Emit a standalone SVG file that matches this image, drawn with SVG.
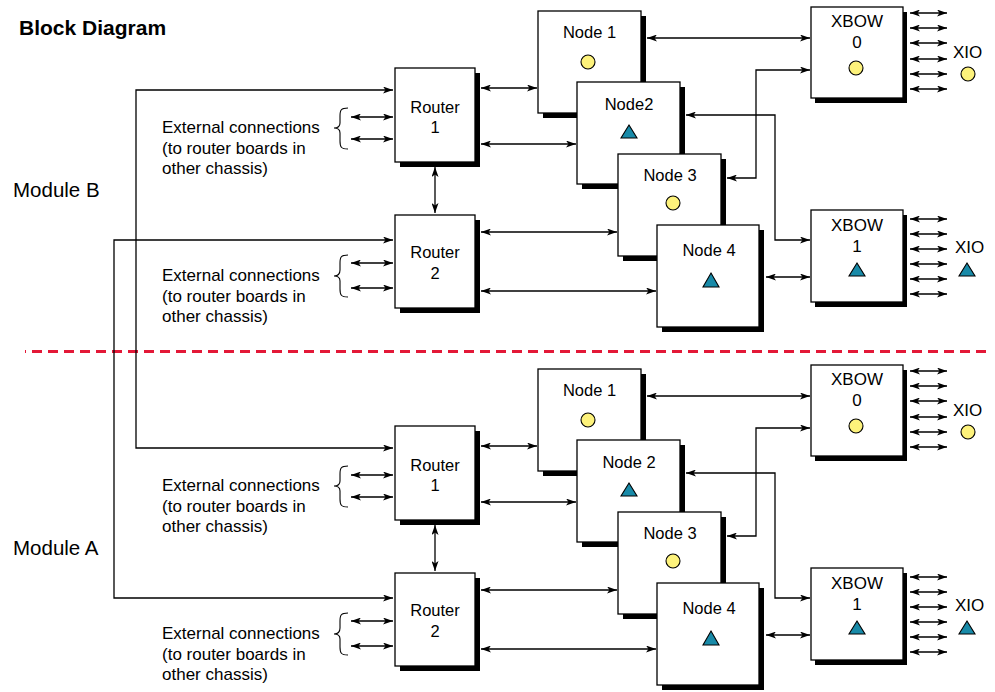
<svg xmlns="http://www.w3.org/2000/svg" width="995" height="692" viewBox="0 0 995 692">
<defs>
<style>
text{font-family:"Liberation Sans",Arial,Helvetica,sans-serif;fill:#000}
.lbl{font-size:16.5px;text-anchor:middle}
.xl{font-size:17px;text-anchor:middle}
.xio{font-size:17px}
.ext{font-size:17px}
.mod{font-size:20.5px}
.title{font-size:21px;font-weight:bold}
.box{fill:#fff;stroke:#000;stroke-width:1.3}
.sh{fill:#000}
.yc{fill:#fdf27b;stroke:#000;stroke-width:1.1}
.tri{fill:#188aa8;stroke:#000;stroke-width:1.1}
.ln{fill:none;stroke:#000;stroke-width:1.3}
.bi{marker-start:url(#ah);marker-end:url(#ah)}
.br{fill:none;stroke:#000;stroke-width:1.1}
</style>
<marker id="ah" viewBox="0 0 10 7" refX="10" refY="3.5" markerWidth="10" markerHeight="7" markerUnits="userSpaceOnUse" orient="auto-start-reverse">
<path d="M0,0 L10,3.5 L0,7 L2.5,3.5 z" fill="#000"/>
</marker>
</defs>
<rect width="995" height="692" fill="#fff"/>
<text class="title" x="19" y="35">Block Diagram</text>
<text class="mod" x="13" y="197">Module B</text>
<text class="mod" x="13" y="555">Module A</text>
<path d="M25,351.5 H992" stroke="#e31837" stroke-width="3" stroke-dasharray="10 6" stroke-dashoffset="9" fill="none"/>

<g id="inter-module-connectors">
<path class="ln bi" d="M393,90 H136 V448 H393"/>
<path class="ln bi" d="M393,240 H114 V598 H393"/>
</g>

<!-- Module B -->
<g id="module-b">
<g id="b-connectors">
<path class="ln bi" d="M351,117 H393"/>
<path class="ln bi" d="M351,139 H393"/>
<path class="ln bi" d="M351,263 H393"/>
<path class="ln bi" d="M351,288 H393"/>
<path class="br" d="M348,108 C341,108 340,110 340,116 L340,123 C340,127 338,128 334,128 C338,128 340,129 340,133 L340,141 C340,147 341,149 348,149"/>
<path class="br" d="M348,255 C341,255 340,257 340,263 L340,270 C340,274 338,276 334,276 C338,276 340,277 340,281 L340,289 C340,295 341,297 348,297"/>
<path class="ln bi" d="M481,88 H537"/>
<path class="ln bi" d="M481,144 H576"/>
<path class="ln bi" d="M435,167 V213"/>
<path class="ln bi" d="M481,232 H617"/>
<path class="ln bi" d="M481,291 H656"/>
<path class="ln bi" d="M647,38 H810"/>
<path class="ln bi" d="M727,178 H756 V70 H810"/>
<path class="ln bi" d="M686,115 H775 V240 H810"/>
<path class="ln bi" d="M766,277 H810"/>
<path class="ln bi" d="M910,13 H947"/>
<path class="ln bi" d="M910,28 H947"/>
<path class="ln bi" d="M910,43 H947"/>
<path class="ln bi" d="M910,59 H947"/>
<path class="ln bi" d="M910,74 H947"/>
<path class="ln bi" d="M910,89 H947"/>
<path class="ln bi" d="M910,219 H947"/>
<path class="ln bi" d="M910,234 H947"/>
<path class="ln bi" d="M910,249 H947"/>
<path class="ln bi" d="M910,264 H947"/>
<path class="ln bi" d="M910,279 H947"/>
<path class="ln bi" d="M910,294 H947"/>
</g>
<g id="b-ext1"><text class="ext" x="162" y="133">External connections</text><text class="ext" x="162" y="154">(to router boards in</text><text class="ext" x="162" y="174">other chassis)</text></g>
<g id="b-ext2"><text class="ext" x="162" y="281">External connections</text><text class="ext" x="162" y="302">(to router boards in</text><text class="ext" x="162" y="322">other chassis)</text></g>
<g id="b-router1"><rect class="sh" x="400" y="73" width="80" height="94"/><rect class="box" x="395" y="68" width="80" height="94"/><text class="lbl" x="435" y="113">Router</text><text class="lbl" x="435" y="133">1</text></g>
<g id="b-router2"><rect class="sh" x="400" y="220" width="80" height="93"/><rect class="box" x="395" y="215" width="80" height="93"/><text class="lbl" x="435" y="258">Router</text><text class="lbl" x="435" y="279">2</text></g>
<g id="b-node1"><rect class="sh" x="543" y="16" width="103" height="102"/><rect class="box" x="538" y="11" width="103" height="102"/><text class="lbl" x="589.5" y="38">Node 1</text><circle class="yc" cx="588" cy="62" r="7"/></g>
<g id="b-node2"><rect class="sh" x="582" y="87" width="103" height="102"/><rect class="box" x="577" y="82" width="103" height="102"/><text class="lbl" x="629" y="110">Node2</text><path class="tri" d="M629,125 L637,138 L621,138 z"/></g>
<g id="b-node3"><rect class="sh" x="623" y="159" width="103" height="102"/><rect class="box" x="618" y="154" width="103" height="102"/><text class="lbl" x="670" y="181">Node 3</text><circle class="yc" cx="673" cy="203" r="7"/></g>
<g id="b-node4"><rect class="sh" x="662" y="230" width="102" height="102"/><rect class="box" x="657" y="225" width="102" height="102"/><text class="lbl" x="709" y="256">Node 4</text><path class="tri" d="M711,273 L719,287 L703,287 z"/></g>
<g id="b-xbow0"><rect class="sh" x="815" y="12" width="92" height="91"/><rect class="box" x="811" y="7" width="92" height="91"/><text class="xl" x="857" y="27">XBOW</text><text class="xl" x="857" y="48">0</text><circle class="yc" cx="856" cy="68" r="7"/></g>
<g id="b-xbow1"><rect class="sh" x="815" y="215" width="92" height="92"/><rect class="box" x="811" y="210" width="92" height="92"/><text class="xl" x="857" y="231">XBOW</text><text class="xl" x="857" y="252">1</text><path class="tri" d="M857,263 L865,276 L849,276 z"/></g>
<g id="b-xio0"><text class="xio" x="953" y="58">XIO</text><circle class="yc" cx="968" cy="74" r="7"/></g>
<g id="b-xio1"><text class="xio" x="955" y="253">XIO</text><path class="tri" d="M967,263 L975,276 L959,276 z"/></g>
</g>

<!-- Module A -->
<g id="module-a" transform="translate(0,358)">
<g id="a-connectors">
<path class="ln bi" d="M351,117 H393"/>
<path class="ln bi" d="M351,139 H393"/>
<path class="ln bi" d="M351,263 H393"/>
<path class="ln bi" d="M351,288 H393"/>
<path class="br" d="M348,108 C341,108 340,110 340,116 L340,123 C340,127 338,128 334,128 C338,128 340,129 340,133 L340,141 C340,147 341,149 348,149"/>
<path class="br" d="M348,255 C341,255 340,257 340,263 L340,270 C340,274 338,276 334,276 C338,276 340,277 340,281 L340,289 C340,295 341,297 348,297"/>
<path class="ln bi" d="M481,88 H537"/>
<path class="ln bi" d="M481,144 H576"/>
<path class="ln bi" d="M435,167 V213"/>
<path class="ln bi" d="M481,232 H617"/>
<path class="ln bi" d="M481,291 H656"/>
<path class="ln bi" d="M647,38 H810"/>
<path class="ln bi" d="M727,178 H756 V70 H810"/>
<path class="ln bi" d="M686,115 H775 V240 H810"/>
<path class="ln bi" d="M766,277 H810"/>
<path class="ln bi" d="M910,13 H947"/>
<path class="ln bi" d="M910,28 H947"/>
<path class="ln bi" d="M910,43 H947"/>
<path class="ln bi" d="M910,59 H947"/>
<path class="ln bi" d="M910,74 H947"/>
<path class="ln bi" d="M910,89 H947"/>
<path class="ln bi" d="M910,219 H947"/>
<path class="ln bi" d="M910,234 H947"/>
<path class="ln bi" d="M910,249 H947"/>
<path class="ln bi" d="M910,264 H947"/>
<path class="ln bi" d="M910,279 H947"/>
<path class="ln bi" d="M910,294 H947"/>
</g>
<g id="a-ext1"><text class="ext" x="162" y="133">External connections</text><text class="ext" x="162" y="154">(to router boards in</text><text class="ext" x="162" y="174">other chassis)</text></g>
<g id="a-ext2"><text class="ext" x="162" y="281">External connections</text><text class="ext" x="162" y="302">(to router boards in</text><text class="ext" x="162" y="322">other chassis)</text></g>
<g id="a-router1"><rect class="sh" x="400" y="73" width="80" height="94"/><rect class="box" x="395" y="68" width="80" height="94"/><text class="lbl" x="435" y="113">Router</text><text class="lbl" x="435" y="133">1</text></g>
<g id="a-router2"><rect class="sh" x="400" y="220" width="80" height="93"/><rect class="box" x="395" y="215" width="80" height="93"/><text class="lbl" x="435" y="258">Router</text><text class="lbl" x="435" y="279">2</text></g>
<g id="a-node1"><rect class="sh" x="543" y="16" width="103" height="102"/><rect class="box" x="538" y="11" width="103" height="102"/><text class="lbl" x="589.5" y="38">Node 1</text><circle class="yc" cx="588" cy="62" r="7"/></g>
<g id="a-node2"><rect class="sh" x="582" y="87" width="103" height="102"/><rect class="box" x="577" y="82" width="103" height="102"/><text class="lbl" x="629" y="110">Node 2</text><path class="tri" d="M629,125 L637,138 L621,138 z"/></g>
<g id="a-node3"><rect class="sh" x="623" y="159" width="103" height="102"/><rect class="box" x="618" y="154" width="103" height="102"/><text class="lbl" x="670" y="181">Node 3</text><circle class="yc" cx="673" cy="203" r="7"/></g>
<g id="a-node4"><rect class="sh" x="662" y="230" width="102" height="102"/><rect class="box" x="657" y="225" width="102" height="102"/><text class="lbl" x="709" y="256">Node 4</text><path class="tri" d="M711,273 L719,287 L703,287 z"/></g>
<g id="a-xbow0"><rect class="sh" x="815" y="12" width="92" height="91"/><rect class="box" x="811" y="7" width="92" height="91"/><text class="xl" x="857" y="27">XBOW</text><text class="xl" x="857" y="48">0</text><circle class="yc" cx="856" cy="68" r="7"/></g>
<g id="a-xbow1"><rect class="sh" x="815" y="215" width="92" height="92"/><rect class="box" x="811" y="210" width="92" height="92"/><text class="xl" x="857" y="231">XBOW</text><text class="xl" x="857" y="252">1</text><path class="tri" d="M857,263 L865,276 L849,276 z"/></g>
<g id="a-xio0"><text class="xio" x="953" y="58">XIO</text><circle class="yc" cx="968" cy="74" r="7"/></g>
<g id="a-xio1"><text class="xio" x="955" y="253">XIO</text><path class="tri" d="M967,263 L975,276 L959,276 z"/></g>
</g>
</svg>
